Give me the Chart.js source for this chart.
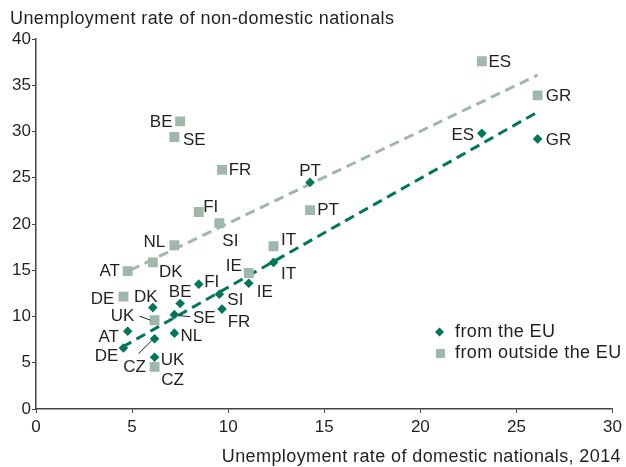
<!DOCTYPE html>
<html>
<head>
<meta charset="utf-8">
<script src="https://cdn.jsdelivr.net/npm/chart.js@4.4.0/dist/chart.umd.min.js"></script>
<style>
  html, body { margin: 0; padding: 0; background: #fff; }
</style>
</head>
<body>
<canvas id="chart" width="626" height="467"></canvas>
<script>
// Countries
const countries = ['DE', 'AT', 'DK', 'CZ', 'UK', 'SE', 'NL', 'BE', 'FI', 'SI', 'FR', 'IE', 'IT', 'PT', 'ES', 'GR'];
// Unemployment rate of domestic nationals, 2014 (x)
const domesticRate = [4.55, 4.77, 6.08, 6.17, 6.17, 7.2, 7.2, 7.5, 8.47, 9.54, 9.68, 11.07, 12.36, 14.26, 23.2, 26.1];
// Unemployment rate of non-domestic nationals (y)
const fromEU = [6.6, 8.4, 10.96, 7.6, 5.6, 10.2, 8.2, 11.4, 13.5, 12.4, 10.8, 13.6, 15.85, 24.5, 29.8, 29.2];
const fromOutsideEU = [12.15, 14.9, 15.85, 4.55, 9.6, 29.4, 17.7, 31.1, 21.3, 20.1, 25.85, 14.7, 17.6, 21.5, 37.6, 33.9];
// Trend lines (start, end)
const trendEUx = [4.5, 26.1];
const trendEUy = [6.7, 32.1];
const trendOutsideX = [4.9, 26.1];
const trendOutsideY = [15.0, 36.1];
// Axis ticks
const xTicks = [0, 5, 10, 15, 20, 25, 30];
const yTicks = [0, 5, 10, 15, 20, 25, 30, 35, 40];
const seriesNames = ['from the EU', 'from outside the EU'];
const xTitle = 'Unemployment rate of domestic nationals, 2014';
const yTitle = 'Unemployment rate of non-domestic nationals';

// Styles
const EU_COLOR = '#00765a';
const OUTSIDE_COLOR = '#9fb8aa';
const TEXT_COLOR = '#231f20';
const AXIS_COLOR = '#444444';
const FONT = 'Liberation Sans, Arial, sans-serif';

// Label placement: [dx, dy] of text centre from the point, optional leader [x1, y1, x2, y2]
const labelPos = {
    eu: {
        DE: [-17, 7], AT: [-19, 5], DK: [-7, -11], CZ: [-20, 28, [-16, 15, -2, 1]], UK: [18, 2],
        SE: [30, 3, [5, 1, 16, 2]], NL: [17, 2], BE: [0, -12], FI: [13, -3], SI: [16, 5],
        FR: [17, 12], IE: [16, 8], IT: [15, 11], PT: [0, -12], ES: [-19, 1], GR: [21, 0]
    },
    outside: {
        DE: [-21, 2], AT: [-18, -1], DK: [18, 9], CZ: [18, 12], UK: [-32, -5, [-15, -4, -4, 0]],
        SE: [20, 2], NL: [-20, -4], BE: [-19, 0], FI: [12, -6], SI: [11, 17],
        FR: [18, -1], IE: [-15, -8], IT: [15, -7], PT: [18, -1], ES: [18, 0], GR: [21, 0]
    }
};

function toPoints(xs, ys) {
    return xs.map((x, i) => ({ x: x, y: ys[i] }));
}

const labelPlugin = {
    id: 'pointLabels',
    afterDatasetsDraw(chart) {
        const ctx = chart.ctx;
        ctx.save();
        ctx.font = '17px ' + FONT;
        ctx.fillStyle = TEXT_COLOR;
        ctx.strokeStyle = '#222';
        ctx.lineWidth = 1;
        ctx.textAlign = 'center';
        ctx.textBaseline = 'middle';
        [['eu', 0], ['outside', 1]].forEach(([key, idx]) => {
            chart.getDatasetMeta(idx).data.forEach((pt, i) => {
                const pos = labelPos[key][countries[i]];
                if (!pos) return;
                ctx.fillText(countries[i], pt.x + pos[0], pt.y + pos[1] + 1);
                if (pos[2]) {
                    const l = pos[2];
                    ctx.beginPath();
                    ctx.moveTo(pt.x + l[0], pt.y + l[1]);
                    ctx.lineTo(pt.x + l[2], pt.y + l[3]);
                    ctx.stroke();
                }
            });
        });
        ctx.restore();
    },
    afterDraw(chart) {
        const ctx = chart.ctx;
        ctx.save();
        ctx.font = '18px ' + FONT;
        ctx.letterSpacing = '0.4px';
        ctx.fillStyle = TEXT_COLOR;
        ctx.textBaseline = 'alphabetic';
        ctx.textAlign = 'left';
        ctx.fillText(yTitle, 10, 24);
        ctx.textAlign = 'right';
        ctx.fillText(xTitle, 621, 462);

        // legend
        ctx.textAlign = 'left';
        ctx.fillText(seriesNames[0], 455, 337);
        ctx.fillText(seriesNames[1], 455, 358);
        ctx.fillStyle = EU_COLOR;
        ctx.beginPath();
        ctx.moveTo(439.5, 327.5); ctx.lineTo(444, 332); ctx.lineTo(439.5, 336.5); ctx.lineTo(435, 332);
        ctx.closePath();
        ctx.fill();
        ctx.fillStyle = OUTSIDE_COLOR;
        ctx.fillRect(436, 349, 9, 9);
        ctx.restore();
    }
};

const ctx = document.getElementById('chart');
new Chart(ctx, {
    type: 'scatter',
    data: {
        datasets: [
            {
                label: seriesNames[0],
                data: toPoints(domesticRate, fromEU),
                pointStyle: 'rectRot',
                pointRadius: 4.8,
                backgroundColor: EU_COLOR,
                borderWidth: 0
            },
            {
                label: seriesNames[1],
                data: toPoints(domesticRate, fromOutsideEU),
                pointStyle: 'rect',
                pointRadius: 7,
                backgroundColor: OUTSIDE_COLOR,
                borderWidth: 0
            },
            {
                type: 'line',
                data: toPoints(trendEUx, trendEUy),
                borderColor: EU_COLOR,
                borderWidth: 3,
                borderDash: [10, 6],
                pointRadius: 0,
                fill: false
            },
            {
                type: 'line',
                data: toPoints(trendOutsideX, trendOutsideY),
                borderColor: OUTSIDE_COLOR,
                borderWidth: 3,
                borderDash: [10, 6],
                pointRadius: 0,
                fill: false
            }
        ]
    },
    options: {
        responsive: false,
        animation: false,
        layout: { padding: { top: 39, right: 9, left: 0, bottom: 0 } },
        plugins: {
            legend: { display: false },
            tooltip: { enabled: false }
        },
        scales: {
            x: {
                type: 'linear',
                min: 0,
                max: 30,
                afterBuildTicks: s => { s.ticks = xTicks.map(v => ({ value: v })); },
                afterFit: s => { s.height = 58; },
                ticks: { font: { family: FONT, size: 17 }, color: TEXT_COLOR, padding: 4 },
                grid: { drawOnChartArea: false, drawTicks: true, tickLength: 4, color: AXIS_COLOR },
                border: { display: true, color: AXIS_COLOR, width: 1.5 }
            },
            y: {
                type: 'linear',
                min: 0,
                max: 40,
                afterBuildTicks: s => { s.ticks = yTicks.map(v => ({ value: v })); },
                afterFit: s => { s.width = 36; },
                ticks: { font: { family: FONT, size: 17 }, color: TEXT_COLOR, padding: 1 },
                grid: { drawOnChartArea: false, drawTicks: true, tickLength: 4, color: AXIS_COLOR },
                border: { display: true, color: AXIS_COLOR, width: 1.5 }
            }
        }
    },
    plugins: [labelPlugin]
});
</script>
</body>
</html>
